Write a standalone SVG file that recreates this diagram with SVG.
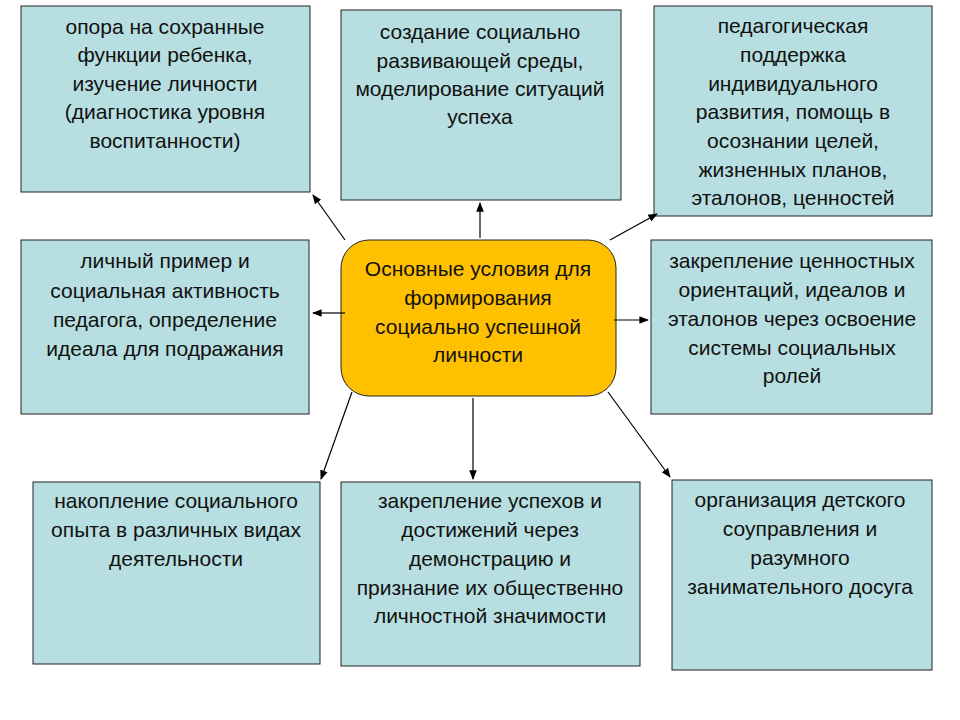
<svg xmlns="http://www.w3.org/2000/svg" width="960" height="720" viewBox="0 0 960 720">
<style>
.b{fill:#B7DEE0;stroke:#222;stroke-width:1}
.t{font-family:"Liberation Sans",Arial,sans-serif;font-size:21px;fill:#111;text-anchor:middle}
.c line{stroke:#000;stroke-width:1.2;marker-end:url(#a)}
</style>
<defs><marker id="a" viewBox="0 0 10 10" refX="9" refY="5" markerWidth="8" markerHeight="8" orient="auto"><path d="M0,1 L10,5 L0,9 z" fill="#000"/></marker></defs>
<rect width="960" height="720" fill="#fff"/>
<g id="n1"><rect class="b" x="21" y="6" width="289" height="186"/><text class="t"><tspan x="165" y="34">опора на сохранные</tspan><tspan x="165" y="62">функции ребенка,</tspan><tspan x="165" y="91">изучение личности</tspan><tspan x="165" y="119">(диагностика уровня</tspan><tspan x="165" y="148">воспитанности)</tspan></text></g>
<g id="n2"><rect class="b" x="341" y="10" width="280" height="190"/><text class="t"><tspan x="480" y="39">создание социально</tspan><tspan x="480" y="68">развивающей среды,</tspan><tspan x="480" y="96">моделирование ситуаций</tspan><tspan x="480" y="124">успеха</tspan></text></g>
<g id="n3"><rect class="b" x="654" y="6" width="278" height="210"/><text class="t"><tspan x="793" y="33">педагогическая</tspan><tspan x="793" y="62">поддержка</tspan><tspan x="793" y="91">индивидуального</tspan><tspan x="793" y="119">развития, помощь в</tspan><tspan x="793" y="148">осознании целей,</tspan><tspan x="793" y="177">жизненных планов,</tspan><tspan x="793" y="205">эталонов, ценностей</tspan></text></g>
<g id="n4"><rect class="b" x="21" y="240" width="288" height="174"/><text class="t"><tspan x="165" y="268">личный пример и</tspan><tspan x="165" y="298">социальная активность</tspan><tspan x="165" y="327">педагога, определение</tspan><tspan x="165" y="356">идеала для подражания</tspan></text></g>
<g id="n5"><rect x="341" y="240" width="275" height="156" rx="28" fill="#FFC000" stroke="#222"/><text class="t"><tspan x="478" y="276">Основные условия для</tspan><tspan x="478" y="305">формирования</tspan><tspan x="478" y="334">социально успешной</tspan><tspan x="478" y="362">личности</tspan></text></g>
<g id="n6"><rect class="b" x="651" y="240" width="281" height="174"/><text class="t"><tspan x="792" y="268">закрепление ценностных</tspan><tspan x="792" y="297">ориентаций, идеалов и</tspan><tspan x="792" y="326">эталонов через освоение</tspan><tspan x="792" y="355">системы социальных</tspan><tspan x="792" y="383">ролей</tspan></text></g>
<g id="n7"><rect class="b" x="33" y="482" width="287" height="182"/><text class="t"><tspan x="176" y="508">накопление социального</tspan><tspan x="176" y="537">опыта в различных видах</tspan><tspan x="176" y="566">деятельности</tspan></text></g>
<g id="n8"><rect class="b" x="341" y="482" width="299" height="184"/><text class="t"><tspan x="490" y="508">закрепление успехов и</tspan><tspan x="490" y="537">достижений через</tspan><tspan x="490" y="566">демонстрацию и</tspan><tspan x="490" y="595">признание их общественно</tspan><tspan x="490" y="623">личностной значимости</tspan></text></g>
<g id="n9"><rect class="b" x="672" y="480" width="260" height="190"/><text class="t"><tspan x="800" y="507">организация детского</tspan><tspan x="800" y="536">соуправления и</tspan><tspan x="800" y="565">разумного</tspan><tspan x="800" y="594">занимательного досуга</tspan></text></g>
<g class="c" id="connectors">
<line x1="345" y1="240" x2="313" y2="195"/>
<line x1="480" y1="238" x2="480" y2="203"/>
<line x1="610" y1="240" x2="657" y2="214"/>
<line x1="345" y1="313" x2="313" y2="313"/>
<line x1="614" y1="320" x2="648" y2="320"/>
<line x1="352" y1="392" x2="321" y2="479"/>
<line x1="473" y1="398" x2="473" y2="479"/>
<line x1="608" y1="392" x2="670" y2="477"/>
</g>
</svg>
